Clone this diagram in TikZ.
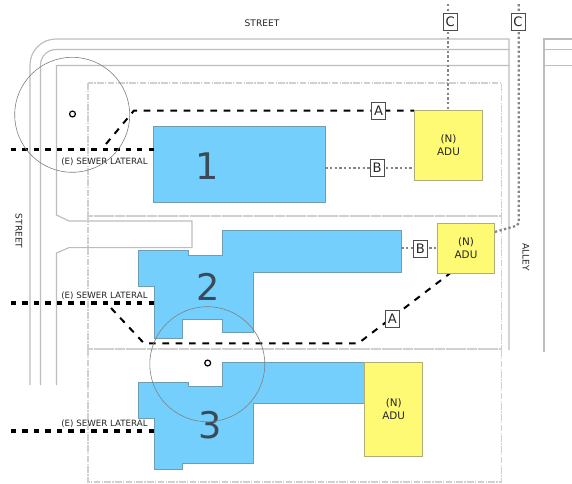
\documentclass[tikz,border=0pt]{standalone}
\usepackage{fontspec}
\setmainfont{DejaVu Sans}
\definecolor{bldg}{HTML}{74CFFC}
\definecolor{bldgedge}{HTML}{6E9DB5}
\definecolor{adu}{HTML}{FFFA73}
\definecolor{aduedge}{HTML}{B0AE78}
\definecolor{road}{HTML}{BDBDBD}
\definecolor{lot}{HTML}{D0D0D0}
\definecolor{util}{HTML}{858585}
\definecolor{numc}{HTML}{3A4A58}
\pgfdeclarelayer{under}
\pgfdeclarelayer{lines}
\pgfsetlayers{under,lines,main}
\tikzset{
  x=0.75pt,y=-0.75pt,
  roadline/.style={draw=road,line width=0.85pt},
  lotline/.style={draw=lot,line width=0.8pt,dash pattern=on 5pt off 1pt on 1pt off 1pt},
  bldgshape/.style={fill=bldg,draw=bldgedge,line width=0.6pt},
  adubox/.style={fill=adu,draw=aduedge,line width=0.7pt,inner sep=0pt,align=center,font=\fontsize{7.8}{9.6}\selectfont,text=black!85},
  tagbox/.style={fill=white,draw=black!70,line width=0.6pt,inner sep=0pt,minimum width=10.5pt,minimum height=12.5pt,font=\fontsize{9.8}{10}\selectfont,text=black!85},
  lateral/.style={draw=black,line width=2.5pt,dash pattern=on 4pt off 4.6pt},
  sewerline/.style={draw=black,line width=1.5pt,dash pattern=on 5pt off 5pt},
  utilline/.style={draw=util,line width=1.7pt,dash pattern=on 1.7pt off 1.8pt},
  zonecircle/.style={draw=black!50,line width=0.45pt},
  probe/.style={circle,draw=black,line width=0.9pt,inner sep=0pt,minimum size=4.4pt,fill=white},
  smalltext/.style={font=\fontsize{6.8}{8}\selectfont,text=black!85,inner sep=0pt},
  lateraltext/.style={font=\fontsize{6.5}{8}\selectfont,text=black!85,inner sep=0pt},
  bignum/.style={font=\fontsize{27.5}{30}\selectfont,text=numc,inner sep=0pt}
}
\begin{document}
\begin{tikzpicture}
\useasboundingbox (0,0) rectangle (572,483);
\begin{pgfonlayer}{under}
\fill[white] (0,0) rectangle (572,483);
% roads
\draw[roadline] (30,385) -- (30,65) arc[start angle=180,end angle=270,radius=26] -- (509,39) -- (509,350);
\draw[roadline] (40.5,385) -- (40.5,65) arc[start angle=180,end angle=270,radius=15.5] -- (509,49.5);
\draw[roadline] (509,65.5) -- (56.5,65.5) -- (56.5,215) -- (69,221) -- (192,221) -- (192,247.6) -- (69,247.6) -- (56.5,253) -- (56.5,385);
\draw[roadline] (572,39) -- (544,39) -- (544,352);
\draw[roadline] (544,49.5) -- (572,49.5);
\draw[roadline] (544,65.5) -- (572,65.5);
% lots
\draw[lotline] (88,83) rectangle (501.5,216);
\draw[lotline] (88,216) rectangle (501.5,349);
\draw[lotline] (88,349) rectangle (501.5,482);
% buildings
\path[bldgshape] (222.3,230.7) -- (401.3,230.7) -- (401.3,272.3) -- (253.7,272.3) -- (253.7,332.3) -- (222.3,332.3) -- (222.3,319) -- (182.3,319) -- (182.3,338.3) -- (154.3,338.3) -- (154.3,286.7) -- (138.3,286.7) -- (138.3,250.7) -- (188.7,250.7) -- (188.7,255) -- (222.3,255) -- cycle;
\path[bldgshape] (222.3,362.3) -- (364.7,362.3) -- (364.7,403.7) -- (253.7,403.7) -- (253.7,463.3) -- (182.3,463.3) -- (182.3,469.3) -- (154.3,469.3) -- (154.3,418.3) -- (138.3,418.3) -- (138.3,382) -- (188.7,382) -- (188.7,386) -- (222.3,386) -- cycle;
\node[bldgshape,inner sep=0pt,minimum width=129pt,minimum height=57.2pt] (b1) at (239,164.2) {};
\end{pgfonlayer}
\node[bignum] (n1) at (207,166) {1};
\node[bignum] (n2) at (208.5,286.7) {2};
\node[bignum] (n3) at (210,425.5) {3};
\coordinate (b2e) at (401.3,248.3);
% ADUs
\node[adubox,minimum width=50.7pt,minimum height=52.5pt] (adu1) at (448.5,145.3) {(N)\\ADU};
\node[adubox,minimum width=43pt,minimum height=37.5pt] (adu2) at (466,248.3) {(N)\\ADU};
\node[adubox,minimum width=43.5pt,minimum height=70.5pt] (adu3) at (393.7,409.3) {(N)\\ADU};
% tag boxes
\node[tagbox] (tagA1) at (378.7,110.6) {A};
\node[tagbox] (tagB1) at (377.2,167.7) {B};
\node[tagbox] (tagC1) at (450.2,22.2) {C};
\node[tagbox] (tagC2) at (518,22.2) {C};
\node[tagbox] (tagB2) at (420.3,248.7) {B};
\node[tagbox] (tagA2) at (392.3,319) {A};
% free ends
\coordinate (lat1a) at (11,149.3);
\coordinate (lat1b) at (154,149.3);
\coordinate (lat2a) at (11,303);
\coordinate (lat2b) at (154.3,303);
\coordinate (lat3a) at (11,431);
\coordinate (lat3b) at (154.3,431);
\coordinate (s1a) at (106,144);
\coordinate (s1b) at (134,110.5);
\coordinate (s2a) at (111,308);
\coordinate (s2b) at (144,343.3);
\coordinate (s2c) at (358.3,343.3);
\coordinate (s2d) at (450,273.3);
\coordinate (c1top) at (448.3,4);
\coordinate (c2top) at (518.7,4);
\coordinate (c2bend) at (518.7,223);
\coordinate (c2end) at (494.7,232);
\begin{pgfonlayer}{lines}
\draw[lateral] (lat1a) -- (lat1b);
\draw[lateral] (lat2a) -- (lat2b);
\draw[lateral] (lat3a) -- (lat3b);
\draw[sewerline] (s1a) -- (s1b) -- (adu1.west |- s1b);
\draw[sewerline] (s2a) -- (s2b) -- (s2c) -- (s2d);
\draw[utilline] (c1top) -- (c1top |- adu1.north);
\draw[utilline] (c2top) -- (c2bend) -- (516.7,225.7) -- (c2end);
\draw[utilline] (b1.east |- tagB1) -- (adu1.west |- tagB1);
\draw[utilline] (b2e) -- (adu2.west);
\end{pgfonlayer}
% circles
\node[zonecircle,circle,inner sep=0pt,minimum size=86.25pt] (z1) at (72.2,114.8) {};
\node[zonecircle,circle,inner sep=0pt,minimum size=86.25pt] (z2) at (207.3,364.2) {};
\node[probe] (p1) at (72.5,114) {};
\node[probe] (p2) at (207.7,363) {};
% text
\node[smalltext] (street1) at (262,23.5) {STREET};
\node[smalltext,rotate=-90] (street2) at (19,231) {STREET};
\node[smalltext,rotate=-90] (alley) at (526,257) {ALLEY};
\node[lateraltext] (sl1) at (104.5,162) {(E) SEWER LATERAL};
\node[lateraltext] (sl2) at (104.5,296) {(E) SEWER LATERAL};
\node[lateraltext] (sl3) at (104.5,424) {(E) SEWER LATERAL};
\end{tikzpicture}
\end{document}
